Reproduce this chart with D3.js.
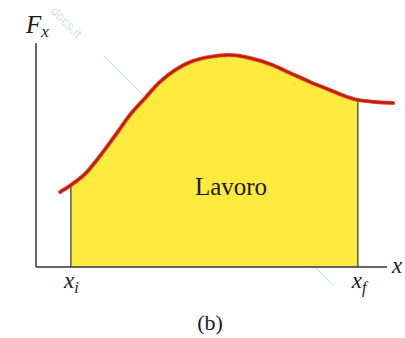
<!DOCTYPE html>
<html>
<head>
<meta charset="utf-8">
<script src="https://cdn.jsdelivr.net/npm/d3@7"></script>
<style>
  html, body { margin: 0; padding: 0; background: #ffffff; }
  svg { display: block; }
</style>
</head>
<body>
<svg id="chart" width="405" height="338"></svg>
<script>
// Force component F_x sampled along x (arbitrary units, 0–100)
const positions = [6.7, 9.4, 13.6, 17.8, 21.9, 26.1, 30.3, 34.4, 38.6, 42.8, 48.3, 53.9, 59.4, 65.0, 70.6, 76.1, 81.7, 85.8, 89.4, 94.2, 99.2];
const forceValues = [33.5, 36.2, 41.5, 49.6, 58.5, 67.9, 75.4, 82.6, 87.9, 91.5, 93.8, 94.6, 93.3, 90.6, 86.6, 82.6, 79.0, 76.3, 74.6, 73.7, 73.2];

// Integration limits
const limits = [9.7, 89.4];
const limitLabels = ["x", "x"];
const limitSubs = ["i", "f"];

const SERIF = "Liberation Serif, Times New Roman, serif";

const svg = d3.select("#chart");

const x = d3.scaleLinear().domain([0, 100]).range([36, 396]);
const y = d3.scaleLinear().domain([0, 100]).range([267, 43]);

const pts = positions.map((p, i) => [p, forceValues[i]]);
const curve = d3.curveCatmullRom.alpha(0.5);

// Faint diagonal watermark stroke and text
svg.append("line")
  .attr("x1", 104).attr("y1", 56).attr("x2", 332).attr("y2", 284)
  .attr("stroke", "#c3dcf0").attr("stroke-width", 1);
svg.append("text")
  .attr("transform", "translate(50,12) rotate(45)")
  .attr("font-family", "Liberation Sans, sans-serif")
  .attr("font-size", 13)
  .attr("fill", "#cfe1f1")
  .text("docs.it");

// Shaded work region between the limits
svg.append("clipPath").attr("id", "work-clip")
  .append("rect")
  .attr("x", x(limits[0])).attr("y", 0)
  .attr("width", x(limits[1]) - x(limits[0]))
  .attr("height", y(0));

const area = d3.area()
  .x(d => x(d[0]))
  .y0(y(0))
  .y1(d => y(d[1]))
  .curve(curve);

svg.append("path")
  .datum(pts)
  .attr("clip-path", "url(#work-clip)")
  .attr("fill", "#ffeb3d")
  .attr("d", area);

const line = d3.line()
  .x(d => x(d[0]))
  .y(d => y(d[1]))
  .curve(curve);

// Height of the drawn curve at a given x (for the limit lines)
const probe = svg.append("path").attr("d", line(pts)).attr("fill", "none").node();
function curveYAt(px) {
  let lo = 0, hi = probe.getTotalLength();
  for (let k = 0; k < 40; k++) {
    const mid = (lo + hi) / 2;
    if (probe.getPointAtLength(mid).x < px) lo = mid; else hi = mid;
  }
  return probe.getPointAtLength(lo).y;
}

// Vertical lines at the limits
svg.selectAll(".limit")
  .data(limits)
  .join("line")
  .attr("class", "limit")
  .attr("x1", d => x(d)).attr("x2", d => x(d))
  .attr("y1", y(0))
  .attr("y2", d => curveYAt(x(d)))
  .attr("stroke", "#5a5a4a")
  .attr("stroke-width", 1.5);
d3.select(probe).remove();

// Axes
svg.append("line")
  .attr("x1", x(0)).attr("x2", x(0))
  .attr("y1", y(0)).attr("y2", y(100))
  .attr("stroke", "#333").attr("stroke-width", 1.5);
svg.append("line")
  .attr("x1", x(0)).attr("x2", 387)
  .attr("y1", y(0)).attr("y2", y(0))
  .attr("stroke", "#2f3550").attr("stroke-width", 1.5);

// Force curve
svg.append("path")
  .datum(pts)
  .attr("fill", "none")
  .attr("stroke", "#e8452a")
  .attr("stroke-width", 4)
  .attr("stroke-linecap", "round")
  .attr("d", line);
svg.append("path")
  .datum(pts)
  .attr("fill", "none")
  .attr("stroke", "#b51c12")
  .attr("stroke-width", 2)
  .attr("stroke-linecap", "round")
  .attr("d", line);

function label(xp, yp, size) {
  return svg.append("text")
    .attr("x", xp).attr("y", yp)
    .attr("font-family", SERIF)
    .attr("font-size", size)
    .attr("fill", "#1a1a1a");
}

// Axis labels
const fx = label(26, 33, 25).attr("font-style", "italic");
fx.append("tspan").text("F");
fx.append("tspan").attr("font-size", 17).attr("dy", 4).text("x");

label(392, 273, 23).attr("font-style", "italic").text("x");

// Limit labels
const offs = [-7, -6];
limits.forEach((d, i) => {
  const t = label(x(d) + offs[i], 288, 23).attr("font-style", "italic");
  t.append("tspan").text(limitLabels[i]);
  t.append("tspan").attr("font-size", 16).attr("dy", 5).text(limitSubs[i]);
});

// Region label and panel tag
label(231, 195, 25).attr("text-anchor", "middle").text("Lavoro");
label(210, 330, 22).attr("text-anchor", "middle").text("(b)");
</script>
</body>
</html>
